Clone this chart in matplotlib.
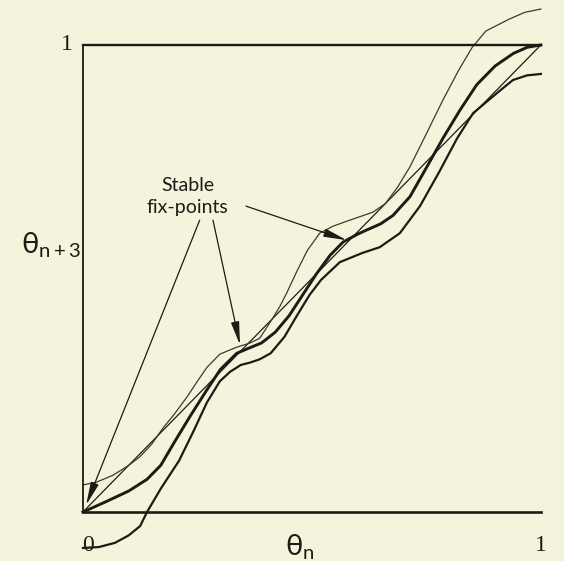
import numpy as np
import matplotlib.pyplot as plt

plt.rcParams['mathtext.fontset'] = 'custom'
plt.rcParams['mathtext.rm'] = 'Lato'
plt.rcParams['mathtext.it'] = 'Lato:italic'

# curves (theta_n, theta_n+3)
mid_x = [0, 0.05, 0.10, 0.14, 0.17, 0.20, 0.234, 0.271, 0.30, 0.336, 0.365, 0.39, 0.42, 0.45,
         0.48, 0.51, 0.54, 0.568, 0.60, 0.62, 0.65, 0.677, 0.714, 0.751, 0.786, 0.823, 0.86,
         0.90, 0.94, 0.97, 1.0]
mid_y = [0, 0.022, 0.045, 0.07, 0.10, 0.15, 0.205, 0.262, 0.305, 0.34, 0.352, 0.362, 0.385, 0.42,
         0.465, 0.51, 0.55, 0.578, 0.595, 0.604, 0.617, 0.635, 0.675, 0.739, 0.80, 0.86, 0.915,
         0.955, 0.982, 0.995, 1.0]

up_x = [0, 0.03, 0.066, 0.10, 0.124, 0.15, 0.175, 0.20, 0.227, 0.25, 0.271, 0.299, 0.336, 0.365,
        0.386, 0.408, 0.43, 0.445, 0.467, 0.49, 0.517, 0.546, 0.583, 0.633, 0.66, 0.686, 0.714,
        0.751, 0.786, 0.82, 0.85, 0.88, 0.93, 0.965, 1.0]
up_y = [0.058, 0.064, 0.079, 0.10, 0.118, 0.145, 0.18, 0.21, 0.246, 0.28, 0.31, 0.338, 0.353, 0.362,
        0.372, 0.405, 0.44, 0.469, 0.515, 0.56, 0.597, 0.612, 0.625, 0.642, 0.66, 0.694, 0.739,
        0.812, 0.882, 0.945, 0.995, 1.03, 1.055, 1.07, 1.077]

low_x = [0, 0.035, 0.07, 0.10, 0.125, 0.14, 0.17, 0.21, 0.24, 0.271, 0.299, 0.321, 0.345, 0.365,
         0.386, 0.41, 0.44, 0.467, 0.495, 0.52, 0.561, 0.611, 0.648, 0.692, 0.736, 0.779, 0.817,
         0.852, 0.904, 0.939, 0.97, 1.0]
low_y = [-0.077, -0.075, -0.066, -0.05, -0.03, 0.0, 0.05, 0.11, 0.17, 0.235, 0.28, 0.30, 0.315, 0.32,
         0.327, 0.34, 0.375, 0.42, 0.465, 0.497, 0.535, 0.555, 0.567, 0.597, 0.655, 0.73, 0.80,
         0.854, 0.897, 0.925, 0.935, 0.938]

diag = [0, 1]

# where the arrows point
fix_x = [0.007, 0.343, 0.576]
fix_y = [0.015, 0.358, 0.582]
tail_x = [0.255, 0.284, 0.356]
tail_y = [0.625, 0.625, 0.655]

ink = '#1c1c14'
bg = '#f6f3dc'

fig = plt.figure(figsize=(5.64, 5.61), dpi=100, facecolor=bg)
ax = fig.add_axes([0.147, 0.0873, 0.812, 0.8325], facecolor=bg)

ax.plot(diag, diag, color=ink, lw=0.9, clip_on=False)
ax.plot(up_x, up_y, color='#3a3a30', lw=0.9, clip_on=False)
ax.plot(low_x, low_y, color=ink, lw=1.6, clip_on=False)
ax.plot(mid_x, mid_y, color=ink, lw=2.1, clip_on=False)

ax.set_xlim(0, 1)
ax.set_ylim(0, 1)
ax.spines['right'].set_visible(False)
for s in ['left', 'top', 'bottom']:
    ax.spines[s].set_color(ink)
ax.spines['left'].set_linewidth(1.3)
ax.spines['top'].set_linewidth(1.7)
ax.spines['bottom'].set_linewidth(1.9)
ax.set_xticks([])
ax.set_yticks([])

serif = 'Liberation Serif'
ax.text(-0.035, 1.0, '1', fontsize=17, family=serif, ha='center', va='center', color=ink)
ax.text(0.012, -0.072, '0', fontsize=17, family=serif, ha='center', va='center', color=ink)
ax.text(1.0, -0.072, '1', fontsize=17, family=serif, ha='center', va='center', color=ink)
ax.text(0.474, -0.075, r'$\mathrm{\theta_{n}}$', fontsize=21, ha='center', va='center', color=ink)
ax.text(-0.004, 0.572, r'$\mathrm{\theta_{n+3}}$', fontsize=21, ha='right', va='center', color=ink)

ax.text(0.229, 0.70, 'Stable', fontsize=14, family='Lato', ha='center', va='center', color=ink)
ax.text(0.229, 0.653, 'fix-points', fontsize=14, family='Lato', ha='center', va='center', color=ink)

for fx, fy, tx, ty in zip(fix_x, fix_y, tail_x, tail_y):
    ax.annotate('', xy=(fx, fy), xytext=(tx, ty),
                arrowprops=dict(arrowstyle='-|>,head_length=1.4,head_width=0.25',
                                color=ink, lw=0.9, shrinkA=0, shrinkB=0))

fig.savefig('out.png', dpi=100, facecolor=bg)
